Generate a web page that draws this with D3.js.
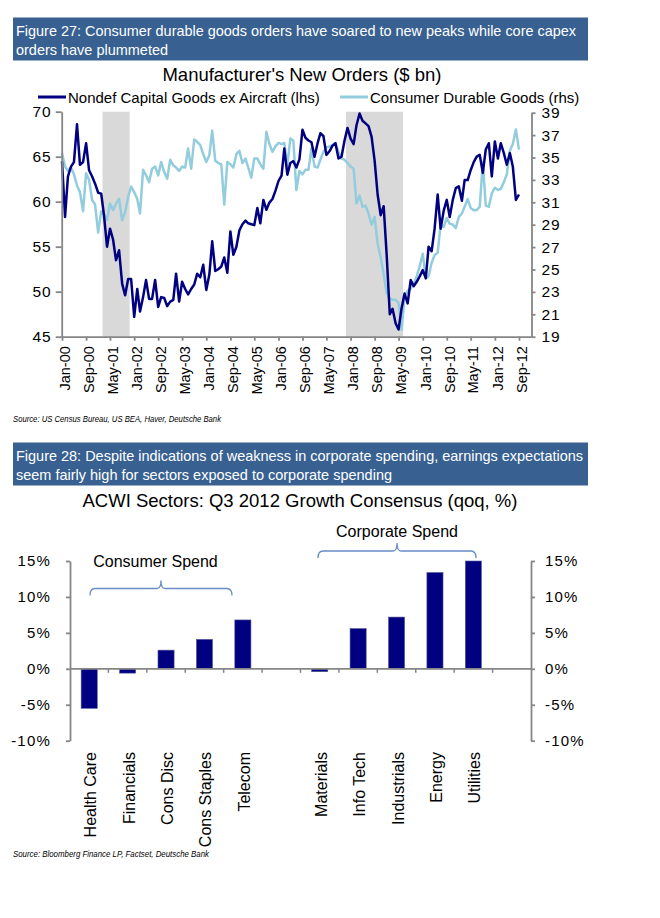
<!DOCTYPE html>
<html>
<head>
<meta charset="utf-8">
<script src="https://cdn.jsdelivr.net/npm/d3@7"></script>
<style>
  body { margin: 0; background: #fff; }
  svg { display: block; font-family: "Liberation Sans", Arial, sans-serif; }
</style>
</head>
<body>
<svg width="660" height="918"></svg>
<script>
// ---- Figure 27 data (monthly, Jan-00 .. Sep-12) ----
const capexOrders = [
  64.5, 58.3, 62.8, 63.9, 64.4, 68.6, 64.1, 64.4, 66.5, 63.5, 62.8, 62.0,
  61.0, 60.9, 58.5, 55.0, 57.0, 55.8, 53.5, 54.6, 50.9, 49.6, 51.4, 51.4,
  47.2, 50.3, 47.8, 49.4, 51.3, 49.2, 49.2, 51.3, 48.3, 49.4, 49.3, 48.4,
  48.9, 49.1, 52.0, 48.9, 51.1, 50.3, 49.7, 50.3, 50.8, 52.0, 51.6, 53.0,
  50.2, 51.9, 55.6, 52.3, 52.5, 52.8, 53.8, 52.1, 56.7, 54.1, 55.0, 56.8,
  57.5, 57.9, 57.6, 57.5, 57.4, 59.3, 57.6, 60.2, 59.1, 59.9, 60.3, 61.2,
  62.3, 62.9, 65.9, 63.0, 64.3, 64.5, 63.8, 64.7, 68.0, 67.1, 66.8, 66.6,
  65.0, 66.5, 67.6, 67.3, 65.2, 65.6, 66.2, 66.5, 64.8, 65.0, 66.8, 68.2,
  67.0, 66.4, 68.5, 69.8, 69.0, 68.7, 68.4, 67.2, 64.5, 60.8, 58.5, 59.5,
  54.0, 47.5, 48.1, 46.5, 45.8, 48.2, 49.8, 48.7, 51.3, 50.6, 51.1, 51.7,
  52.4, 51.5, 55.0, 54.5, 57.0, 60.8, 57.0, 59.0, 60.2, 58.3, 60.2, 61.5,
  61.7, 60.1, 62.4, 62.4, 63.5, 64.4, 65.0, 65.2, 63.2, 65.8, 66.5, 62.8,
  66.7, 64.8, 66.5, 65.4, 64.1, 65.4, 63.9, 60.2, 60.8
];
const consumerDurables = [
  35.4, 34.2, 33.8, 34.1, 33.5, 32.5, 31.9, 30.2, 33.6, 33.0, 31.2, 30.8,
  28.3, 30.2, 29.9, 29.4, 30.9, 30.3, 30.9, 31.3, 29.4, 30.1, 31.5, 32.4,
  31.9, 31.3, 30.0, 33.9, 33.4, 32.8, 34.0, 34.2, 33.4, 34.6, 33.7, 33.1,
  34.8, 34.3, 34.1, 33.8, 34.2, 34.1, 35.8, 34.0, 36.6, 36.4, 36.1, 35.3,
  34.6, 35.2, 37.4, 34.7, 34.5, 34.4, 30.8, 34.6, 34.4, 34.1, 35.3, 35.6,
  34.5, 34.9, 34.1, 33.2, 34.9, 34.9, 34.4, 34.0, 37.3, 36.2, 35.5, 36.0,
  36.3, 36.2, 36.3, 34.3, 36.7, 36.5, 32.1, 33.8, 33.5, 33.9, 33.9, 35.8,
  34.2, 34.1, 34.8, 35.5, 35.9, 36.0, 36.1, 36.3, 35.5, 34.9, 34.8, 34.5,
  34.2, 34.0, 30.9, 31.6, 30.6, 30.7, 30.0, 29.0, 29.7, 27.3, 26.1, 24.6,
  22.9, 22.4, 22.3, 22.3, 22.0, 19.6, 22.6, 23.1, 23.3, 23.7, 24.4, 25.3,
  26.4, 24.2, 24.4, 25.6, 26.3, 26.5, 29.0, 28.8, 29.6, 29.1, 29.0, 28.7,
  29.7, 30.0, 30.6, 31.3, 30.5, 30.3, 30.3, 30.6, 34.6, 30.7, 30.6, 31.8,
  32.3, 32.1, 32.2, 32.8, 33.5, 35.6, 36.2, 37.5, 35.7
];
const months = d3.timeMonth.range(new Date(2000, 0, 1), new Date(2012, 9, 1));
const recessions = [["2001-03", "2001-11"], ["2007-12", "2009-06"]];
const xTickLabels = ["Jan-00","Sep-00","May-01","Jan-02","Sep-02","May-03","Jan-04","Sep-04","May-05","Jan-06",
  "Sep-06","May-07","Jan-08","Sep-08","May-09","Jan-10","Sep-10","May-11","Jan-12","Sep-12"];
const lhsTicks = [45, 50, 55, 60, 65, 70];
const rhsTicks = [19, 21, 23, 25, 27, 29, 31, 33, 35, 37, 39];

// ---- Figure 28 data ----
const sectors = ["Health Care", "Financials", "Cons Disc", "Cons Staples", "Telecom", "",
  "Materials", "Info Tech", "Industrials", "Energy", "Utilities", ""];
const growth = [-5.5, -0.6, 2.6, 4.1, 6.8, null, -0.4, 5.6, 7.2, 13.4, 15.0, null];
const pctTicks = [-10, -5, 0, 5, 10, 15];

const NAVY = "#000080", LIGHT = "#93cddd", GREY = "#868686", HEAD = "#386192";
const svg = d3.select("svg");
const parseMonth = d3.timeParse("%Y-%m");
const fmtMonth = d3.timeFormat("%b-%y");

function header(y, lines) {
  svg.append("rect").attr("x", 13).attr("y", y).attr("width", 575).attr("height", 43).attr("fill", HEAD);
  lines.forEach((l, i) => {
    svg.append("text").attr("x", 16).attr("y", y + 18 + i * 19.5)
      .attr("fill", "#fff").attr("font-size", 15)
      .attr("textLength", l.w).attr("lengthAdjust", "spacingAndGlyphs")
      .text(l.t);
  });
}

function styleAxis(g) {
  g.selectAll("path, line").attr("stroke", GREY).attr("stroke-width", 1.8);
  g.selectAll("text").attr("fill", "#000").attr("font-family", "Liberation Sans, Arial, sans-serif");
}

// ================= Figure 27 =================
header(17.5, [
  { t: "Figure 27: Consumer durable goods orders have soared to new peaks while core capex", w: 560 },
  { t: "orders have plummeted", w: 152 }
]);
svg.append("text").attr("x", 302).attr("y", 81).attr("text-anchor", "middle")
  .attr("font-size", 18.5).text("Manufacturer's New Orders ($ bn)");

// legend
const legend = [
  { label: "Nondef Capital Goods ex Aircraft (lhs)", color: NAVY, x: 38 },
  { label: "Consumer Durable Goods (rhs)", color: LIGHT, x: 340 }
];
legend.forEach(l => {
  svg.append("line").attr("x1", l.x).attr("x2", l.x + 28).attr("y1", 97).attr("y2", 97)
    .attr("stroke", l.color).attr("stroke-width", 3);
  svg.append("text").attr("x", l.x + 30).attr("y", 102.5).attr("font-size", 15).text(l.label);
});

const x1 = d3.scaleTime().domain([new Date(2000, 0, 1), new Date(2013, 0, 1)]).range([62, 531]);
const yL = d3.scaleLinear().domain([45, 70]).range([336.7, 111.7]);
const yR = d3.scaleLinear().domain([19, 39]).range([336.7, 112.7]);

// recession shading
svg.append("g").selectAll("rect").data(recessions).join("rect")
  .attr("x", d => x1(d3.timeDay.offset(parseMonth(d[0]), -15)))
  .attr("width", d => x1(d3.timeDay.offset(parseMonth(d[1]), 15)) - x1(d3.timeDay.offset(parseMonth(d[0]), -15)))
  .attr("y", yL(70)).attr("height", yL(45) - yL(70))
  .attr("fill", "#d9d9d9");

const lineL = d3.line().x((d, i) => x1(months[i])).y(d => yL(d));
const lineR = d3.line().x((d, i) => x1(months[i])).y(d => yR(d));
svg.append("path").datum(consumerDurables).attr("d", lineR)
  .attr("fill", "none").attr("stroke", LIGHT).attr("stroke-width", 2.5).attr("stroke-linejoin", "round");
svg.append("path").datum(capexOrders).attr("d", lineL)
  .attr("fill", "none").attr("stroke", NAVY).attr("stroke-width", 2.5).attr("stroke-linejoin", "round");

// axes
const gL = svg.append("g").attr("transform", "translate(61.7,0)")
  .call(d3.axisLeft(yL).tickValues(lhsTicks).tickSize(6).tickSizeOuter(0).tickPadding(4));
gL.selectAll("text").attr("font-size", 15.5).attr("letter-spacing", 1);
styleAxis(gL);

const gR = svg.append("g").attr("transform", "translate(531.5,0)")
  .call(d3.axisRight(yR).tickValues(rhsTicks).tickSize(4).tickSizeOuter(0).tickPadding(6));
gR.selectAll("text").attr("font-size", 15.5).attr("letter-spacing", 1);
styleAxis(gR);

const xTicks = xTickLabels.map(s => d3.timeParse("%b-%y")(s));
const gX = svg.append("g").attr("transform", "translate(0,336.7)")
  .call(d3.axisBottom(x1).tickValues(xTicks).tickFormat(fmtMonth).tickSize(4).tickSizeOuter(0));
gX.selectAll("text").attr("font-size", 14.5)
  .attr("transform", "rotate(-90)").attr("x", -9.5).attr("y", 0).attr("dy", "0.5em")
  .attr("text-anchor", "end");
styleAxis(gX);

svg.append("text").attr("x", 13).attr("y", 422).attr("font-size", 8.5).attr("font-style", "italic")
  .attr("textLength", 208).attr("lengthAdjust", "spacingAndGlyphs")
  .text("Source: US Census Bureau, US BEA, Haver, Deutsche Bank");

// ================= Figure 28 =================
header(442.5, [
  { t: "Figure 28: Despite indications of weakness in corporate spending, earnings expectations", w: 567 },
  { t: "seem fairly high for sectors exposed to corporate spending", w: 376 }
]);
svg.append("text").attr("x", 300).attr("y", 507).attr("text-anchor", "middle")
  .attr("font-size", 18.5).text("ACWI Sectors: Q3 2012 Growth Consensus (qoq, %)");

const xb = d3.scaleBand().domain(d3.range(sectors.length)).range([70, 531])
  .paddingInner(0.58).paddingOuter(0.29);
const yb = d3.scaleLinear().domain([-10, 15]).range([740.7, 561]);

svg.append("g").selectAll("rect").data(growth.map((v, i) => ({ v, i })).filter(d => d.v !== null))
  .join("rect")
  .attr("x", d => xb(d.i)).attr("width", xb.bandwidth())
  .attr("y", d => yb(Math.max(0, d.v))).attr("height", d => Math.abs(yb(d.v) - yb(0)))
  .attr("fill", NAVY).attr("stroke", "#5a5a9a").attr("stroke-width", 0.6);

// zero line with category ticks
const step = xb.step();
const zero = svg.append("g");
zero.append("line").attr("x1", 70).attr("x2", 531).attr("y1", yb(0)).attr("y2", yb(0))
  .attr("stroke", GREY).attr("stroke-width", 1.8);
zero.selectAll("line.t").data(d3.range(1, sectors.length)).join("line").attr("class", "t")
  .attr("x1", k => 70 + k * step).attr("x2", k => 70 + k * step)
  .attr("y1", yb(0)).attr("y2", yb(0) + 4).attr("stroke", GREY).attr("stroke-width", 1.5);

const fmtPct = d => d + "%";
const gbL = svg.append("g").attr("transform", "translate(70,0)")
  .call(d3.axisLeft(yb).tickValues(pctTicks).tickFormat(fmtPct).tickSize(4).tickSizeOuter(0).tickPadding(15));
gbL.selectAll("text").attr("font-size", 15).attr("letter-spacing", 1.2);
styleAxis(gbL);
const gbR = svg.append("g").attr("transform", "translate(531,0)")
  .call(d3.axisRight(yb).tickValues(pctTicks).tickFormat(fmtPct).tickSize(4).tickSizeOuter(0).tickPadding(10));
gbR.selectAll("text").attr("font-size", 15).attr("letter-spacing", 1.2);
styleAxis(gbR);

// category labels
svg.append("g").selectAll("text").data(sectors.map((s, i) => ({ s, i })).filter(d => d.s))
  .join("text")
  .attr("transform", d => `translate(${xb(d.i) + xb.bandwidth() / 2 + 7},752) rotate(-90)`)
  .attr("text-anchor", "end").attr("font-size", 16).text(d => d.s);

// group brackets
const groups = [
  { label: "Consumer Spend", x1: 90, x2: 232, y: 588.5, ty: 567, tx: 155.5 },
  { label: "Corporate Spend", x1: 318, x2: 476, y: 551, ty: 537, tx: 397 }
];
groups.forEach(g => {
  const m = (g.x1 + g.x2) / 2;
  const p = `M${g.x1},${g.y + 7} Q${g.x1},${g.y} ${g.x1 + 5},${g.y} L${m - 4},${g.y} Q${m},${g.y} ${m},${g.y - 8}` +
    ` Q${m},${g.y} ${m + 4},${g.y} L${g.x2 - 5},${g.y} Q${g.x2},${g.y} ${g.x2},${g.y + 7}`;
  svg.append("path").attr("d", p).attr("fill", "none").attr("stroke", "#6a8cc7").attr("stroke-width", 1.3);
  svg.append("text").attr("x", g.tx).attr("y", g.ty).attr("text-anchor", "middle")
    .attr("font-size", 16).text(g.label);
});

svg.append("text").attr("x", 13).attr("y", 857).attr("font-size", 8.5).attr("font-style", "italic")
  .attr("textLength", 196).attr("lengthAdjust", "spacingAndGlyphs")
  .text("Source: Bloomberg Finance LP, Factset, Deutsche Bank");
</script>
</body>
</html>
